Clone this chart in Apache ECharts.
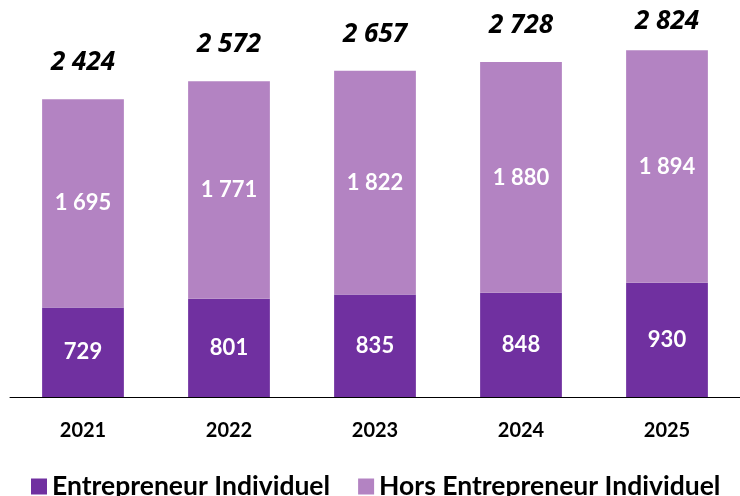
<!DOCTYPE html>
<html>
<head>
<meta charset="utf-8">
<script src="https://cdn.jsdelivr.net/npm/echarts@6/dist/echarts.min.js"></script>
<style>
	html, body { margin: 0; padding: 0; background: #fff; }
	#chart { width: 740px; height: 496px; }
</style>
</head>
<body>
<div id="chart"></div>
<script>
var years = ['2021', '2022', '2023', '2024', '2025'];
var dataEI = [729, 801, 835, 848, 930];
var dataHorsEI = [1695, 1771, 1822, 1880, 1894];
var dataTotal = [2424, 2572, 2657, 2728, 2824];

var fontName = 'Lato';

function formatNumber(v) {
	return String(v).replace(/\B(?=(\d{3})+(?!\d))/g, ' ');
}

echarts.init(document.querySelector('#chart')).setOption({
	animation: false,
	textStyle: { fontFamily: fontName },
	grid: { left: 10, right: -3, top: 4, bottom: 99 },
	legend: {
		left: 26,
		top: 468,
		itemWidth: 16,
		itemHeight: 16,
		itemGap: 28,
		icon: 'rect',
		textStyle: { fontSize: 26.5, fontWeight: 'bold', color: '#000', fontFamily: fontName },
		data: ['Entrepreneur Individuel', 'Hors Entrepreneur Individuel']
	},
	xAxis: {
		type: 'category',
		data: years,
		axisLine: { lineStyle: { color: '#000', width: 1 } },
		axisTick: { show: false },
		axisLabel: { margin: 24, fontSize: 20, fontWeight: 'bold', color: '#000' }
	},
	yAxis: {
		type: 'value',
		min: 0,
		max: 3200,
		show: false,
		splitLine: { show: false }
	},
	series: [{
		name: 'Entrepreneur Individuel',
		type: 'bar',
		stack: 'total',
		barCategoryGap: '44%',
		data: dataEI,
		itemStyle: { color: '#7030a0' },
		label: {
			show: true,
			position: 'inside',
			color: '#fff',
			fontSize: 22,
			fontWeight: 'bold',
			formatter: p => formatNumber(p.value)
		}
	}, {
		name: 'Hors Entrepreneur Individuel',
		type: 'bar',
		stack: 'total',
		data: dataHorsEI,
		itemStyle: { color: '#b383c2' },
		label: {
			show: true,
			position: 'inside',
			color: '#fff',
			fontSize: 22,
			fontWeight: 'bold',
			formatter: p => formatNumber(p.value)
		}
	}, {
		name: 'Total',
		type: 'scatter',
		data: dataTotal,
		symbolSize: 1,
		itemStyle: { color: 'rgba(0,0,0,0)', opacity: 1 },
		silent: true,
		z: 5,
		label: {
			show: true,
			position: 'top',
			distance: 23,
			color: '#000',
			fontFamily: 'Open Sans',
			fontSize: 26,
			fontWeight: 'bold',
			fontStyle: 'italic',
			formatter: p => formatNumber(p.value)
		},
		// keep the highest total label inside the canvas
		labelLayout: p => (p.labelRect.y < 9 ? { dy: 9 - p.labelRect.y } : {})
	}]
});
</script>
</body>
</html>
